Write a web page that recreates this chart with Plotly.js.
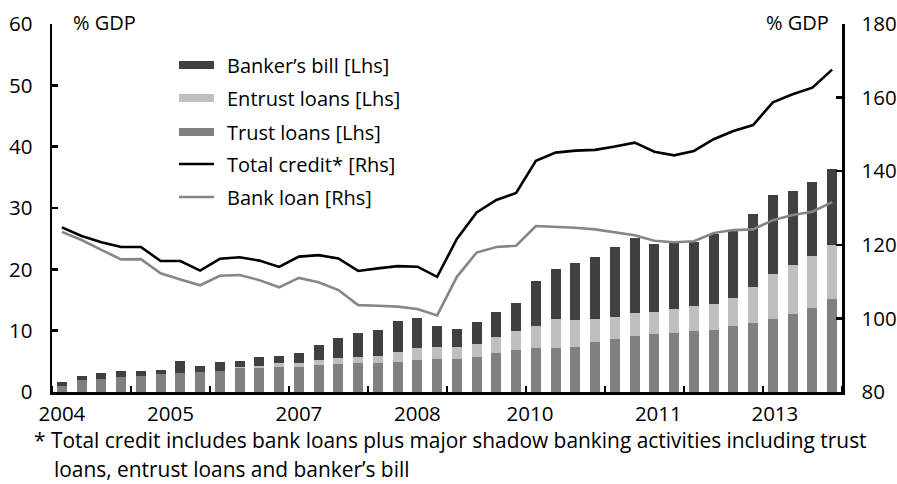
<!DOCTYPE html>
<html>
<head>
<meta charset="utf-8">
<script src="https://cdn.plot.ly/plotly-3.0.1.min.js"></script>
<style>
html,body{margin:0;padding:0;background:#fff;}
#chart{width:897px;height:484px;}
</style>
</head>
<body>
<div id="chart"></div>
<script>
// ---- data (% of GDP), quarterly 2004Q1 - 2013Q4 ----
const quarters = [
  '2004Q1','2004Q2','2004Q3','2004Q4','2005Q1','2005Q2','2005Q3','2005Q4',
  '2006Q1','2006Q2','2006Q3','2006Q4','2007Q1','2007Q2','2007Q3','2007Q4',
  '2008Q1','2008Q2','2008Q3','2008Q4','2009Q1','2009Q2','2009Q3','2009Q4',
  '2010Q1','2010Q2','2010Q3','2010Q4','2011Q1','2011Q2','2011Q3','2011Q4',
  '2012Q1','2012Q2','2012Q3','2012Q4','2013Q1','2013Q2','2013Q3','2013Q4'
];
const trustLoans = [0.9,1.9,2.1,2.4,2.65,2.9,3.05,3.25,3.5,3.9,
  3.85,4.1,4.1,4.35,4.5,4.8,4.7,4.95,5.15,5.3,
  5.4,5.75,6.4,6.8,7.15,7.15,7.4,8.2,8.7,9.1,
  9.45,9.7,10.0,10.1,10.7,11.3,11.95,12.65,13.75,15.15];
const entrustLoans = [0,0,0,0,0,0,0,0,0,0.2,
  0.45,0.6,0.65,0.8,1.0,0.9,1.2,1.5,1.95,2.05,
  1.9,2.05,2.6,3.2,3.65,4.75,4.3,3.65,3.5,3.8,
  3.65,3.8,3.95,4.2,4.7,5.8,7.3,8.0,8.45,8.75];
const bankersBill = [0.7,0.7,0.95,1.0,0.75,0.7,2.0,1.0,1.4,0.95,
  1.4,1.2,1.6,2.55,3.25,3.85,4.15,5.15,4.9,3.45,
  2.9,3.65,4.05,4.5,7.25,8.15,9.4,10.1,11.45,12.25,
  11.0,10.75,10.55,11.4,11.0,11.9,12.8,12.15,12.05,12.45];
const totalCredit = [124.75,122.4,120.7,119.4,119.4,115.6,115.6,113.0,116.2,116.6,
  115.7,114.0,116.8,117.2,116.3,112.9,113.6,114.2,114.05,111.3,
  121.6,128.8,132.2,134.1,142.85,145.05,145.6,145.8,146.7,147.75,
  145.3,144.3,145.5,148.7,150.9,152.55,158.7,160.9,162.7,167.6];
const bankLoan = [123.5,121.3,118.6,116.05,116.1,112.25,110.6,109.0,111.6,111.8,
  110.4,108.45,111.0,109.8,107.7,103.6,103.45,103.2,102.55,100.8,
  111.3,117.9,119.4,119.75,125.1,124.9,124.65,124.2,123.4,122.6,
  121.1,120.7,120.95,123.2,124.0,124.2,126.7,128.1,129.0,131.6];
const tickPos = [0,5.5,12,18,23.7,30.2,36.1];
const tickLabels = ['2004','2005','2007','2008','2010','2011','2013'];
const seriesNames = ['Banker\u2019s bill [Lhs]','Entrust loans [Lhs]','Trust loans [Lhs]','Total credit* [Rhs]','Bank loan [Rhs]'];
const footnote1 = '* Total credit includes bank loans plus major shadow banking activities including trust';
const footnote2 = 'loans, entrust loans and banker\u2019s bill';

// ---- styling ----
const FONT = '"Open Sans", "Noto Sans", sans-serif';
const FS = 20;
const FS_TICK = 20.5;
const FS_NOTE = 20.9;
const C_BANKER = '#404040', C_ENTRUST = '#bfbfbf', C_TRUST = '#808080';
const C_TOTAL = '#000000', C_BANK = '#868686';
const W = 897, H = 484;
const M = {l:52, r:55, t:24, b:92};
const PW = W - M.l - M.r, PH = H - M.t - M.b;
const px = x => (x - M.l) / PW;
const py = y => (H - M.b - y) / PH;

const xi = quarters.map((q, i) => i);

const traces = [
  {type:'bar', x:xi, y:trustLoans, name:seriesNames[2], marker:{color:C_TRUST, line:{width:0}}, hoverinfo:'skip'},
  {type:'bar', x:xi, y:entrustLoans, name:seriesNames[1], marker:{color:C_ENTRUST, line:{width:0}}, hoverinfo:'skip'},
  {type:'bar', x:xi, y:bankersBill, name:seriesNames[0], marker:{color:C_BANKER, line:{width:0}}, hoverinfo:'skip'},
  {type:'scatter', mode:'lines', x:xi, y:bankLoan, yaxis:'y2', name:seriesNames[4], line:{color:C_BANK, width:2.6}},
  {type:'scatter', mode:'lines', x:xi, y:totalCredit, yaxis:'y2', name:seriesNames[3], line:{color:C_TOTAL, width:2.6}}
];

// custom legend (swatches + labels)
const legX0 = 179, legX1 = 214, legTextX = 225;
const legRows = [65, 98, 132, 164, 197];
const legColors = [C_BANKER, C_ENTRUST, C_TRUST, C_TOTAL, C_BANK];
const shapes = [];
const annotations = [];
legRows.forEach((ry, k) => {
  if (k < 3) {
    shapes.push({type:'rect', xref:'paper', yref:'paper', x0:px(legX0), x1:px(legX1), y0:py(ry+4), y1:py(ry-4),
      fillcolor:legColors[k], line:{width:0}});
  } else {
    shapes.push({type:'line', xref:'paper', yref:'paper', x0:px(legX0), x1:px(legX1), y0:py(ry), y1:py(ry),
      line:{color:legColors[k], width:2.6}});
  }
  annotations.push({xref:'paper', yref:'paper', x:px(legTextX), y:py(ry), xanchor:'left', yanchor:'middle',
    text:seriesNames[k], showarrow:false, font:{family:FONT, size:FS, color:'#000'}});
});
annotations.push({xref:'paper', yref:'paper', x:px(71), y:py(22), xanchor:'left', yanchor:'middle',
  text:'% GDP', showarrow:false, font:{family:FONT, size:FS, color:'#000'}});
annotations.push({xref:'paper', yref:'paper', x:px(831), y:py(22), xanchor:'right', yanchor:'middle',
  text:'% GDP', showarrow:false, font:{family:FONT, size:FS, color:'#000'}});
annotations.push({xref:'paper', yref:'paper', x:px(32), y:py(440), xanchor:'left', yanchor:'middle',
  text:footnote1, showarrow:false, font:{family:FONT, size:FS_NOTE, color:'#000'}});
annotations.push({xref:'paper', yref:'paper', x:px(52), y:py(469), xanchor:'left', yanchor:'middle',
  text:footnote2, showarrow:false, font:{family:FONT, size:FS_NOTE, color:'#000'}});

const layout = {
  width:W, height:H,
  margin:M,
  paper_bgcolor:'#fff', plot_bgcolor:'#fff',
  showlegend:false,
  barmode:'stack', bargap:0.5,
  font:{family:FONT, size:FS, color:'#000'},
  xaxis:{
    range:[-0.5, 39.5], showgrid:false, zeroline:false,
    showline:true, linecolor:'#000', linewidth:2.5,
    tickmode:'array', tickvals:tickPos, ticktext:tickLabels, ticks:'',
    ticklabelstandoff:2,
    minor:{tick0:3.5, dtick:4, ticks:'inside', ticklen:6, tickwidth:2.5, tickcolor:'#000', showgrid:false},
    tickfont:{family:FONT, size:FS_TICK, color:'#000'}, fixedrange:true
  },
  yaxis:{
    range:[0, 60], dtick:10, showgrid:false, zeroline:false,
    showline:true, linecolor:'#000', linewidth:2.5,
    ticks:'inside', ticklen:6, tickwidth:2.5, tickcolor:'#000',
    ticklabelstandoff:13,
    tickfont:{family:FONT, size:FS_TICK, color:'#000'}, fixedrange:true
  },
  yaxis2:{
    range:[80, 180], dtick:20, overlaying:'y', side:'right', showgrid:false, zeroline:false,
    showline:true, linecolor:'#000', linewidth:2.5,
    ticks:'inside', ticklen:6, tickwidth:2.5, tickcolor:'#000',
    ticklabelstandoff:13,
    tickfont:{family:FONT, size:FS_TICK, color:'#000'}, fixedrange:true
  },
  shapes:shapes,
  annotations:annotations
};

Plotly.newPlot('chart', traces, layout, {displayModeBar:false, staticPlot:true});
</script>
</body>
</html>
